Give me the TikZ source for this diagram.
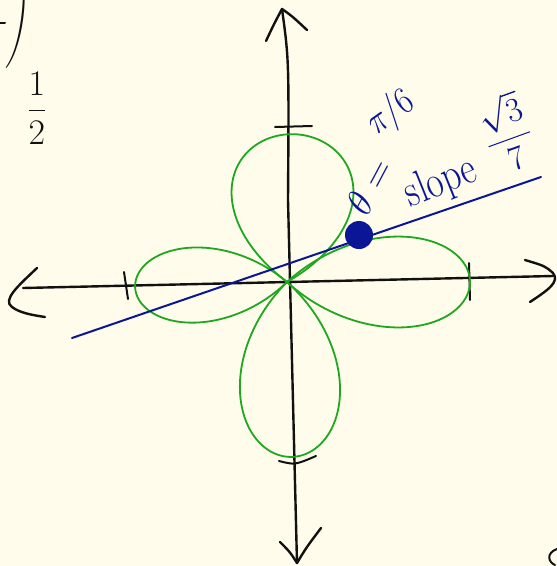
\RequirePackage{fix-cm}
\documentclass[tikz,border=0pt]{standalone}
\usepackage{xcolor}
\usepackage{tikz}
\usepackage{amsmath}
\definecolor{rsPaper}{HTML}{FFFCEB}
\definecolor{rsInk}{HTML}{111111}
\definecolor{rsGreen}{HTML}{1FA81F}
\definecolor{rsBlue}{HTML}{0A1696}

\begin{document}
\begin{tikzpicture}[
    x=1pt, y=-1pt,
    axis/.style={draw=rsInk, line width=2.4pt, line cap=round, line join=round},
    tick/.style={axis, line width=2pt},
    rose/.style={draw=rsGreen, line width=1.8pt, line join=round},
    tangent/.style={draw=rsBlue, line width=2pt, line cap=round},
    hand/.style={font=\fontsize{#1}{#1}\selectfont, text=rsBlue, inner sep=0pt},
    hand/.default=32
]
    % --- Paper ---
    \useasboundingbox (0,0) rectangle (557,566);
    \clip (0,0) rectangle (557,566);
    \fill[rsPaper] (0,0) rectangle (557,566);

    % --- Axes ---
    \coordinate (xL) at (23,288);
    \coordinate (xR) at (553,276);
    \coordinate (yT) at (282,9);
    \coordinate (yB) at (297,563);
    \draw[axis] (xL) -- (xR);
    \draw[axis] (yT) .. controls (289,60) .. (288,200) -- (yB);
    \draw[axis] (37,268) .. controls (18,286) and (2,300) .. (12,307) .. controls (20,313) and (32,315) .. (45,317);
    \draw[axis] (525,260) .. controls (545,266) .. (553,273) .. controls (560,282) and (548,290) .. (530,302);
    \draw[axis] (266,41) .. controls (274,24) .. (yT) .. controls (292,16) .. (307,30);
    \draw[axis] (280,542) .. controls (290,552) .. (yB) .. controls (306,548) .. (321,528);
    \draw[tick] (124,272) -- (128,299);
    \draw[tick] (469,263) -- (470,300);
    \draw[tick] (275,127) -- (312,126);
    \draw[tick] (279,461) .. controls (295,465) .. (316,456);

    % --- Rose ---
    \foreach \ang/\len/\wid in {0/183/167, 273.5/148/224, 178.1/152/138, 88.4/175/184}
        \draw[rose] plot[smooth, domain=-45:45, samples=61, variable=\t]
            ({287 + \len*cos(2*\t)*cos(\t)*cos(\ang) - \wid*cos(2*\t)*sin(\t)*sin(\ang)},
             {282 + \len*cos(2*\t)*cos(\t)*sin(\ang) + \wid*cos(2*\t)*sin(\t)*cos(\ang)});

    % --- Tangent ---
    \coordinate (tanA) at (72,338);
    \coordinate (tanB) at (541,177);
    \draw[tangent] (tanA) -- (tanB);
    \node[circle, fill=rsBlue, minimum size=28pt, inner sep=0pt] (pt) at (359,235) {};

    % --- Labels ---
    \node[hand=38, rotate=62] (thetaEq) at (369,186) {$\theta=$};
    \node[hand=38, rotate=35, xscale=0.85] (piSix) at (391,113) {$\pi/6$};
    \node[hand=46, rotate=22, xscale=0.8] (slope) at (441,183) {slope};
    \node[hand=34, rotate=20] (slopeVal) at (507,133) {$\dfrac{\sqrt{3}}{7}$};
    \node[font=\fontsize{36}{36}\selectfont, text=rsInk, inner sep=0pt] (half) at (37,108) {$\dfrac{1}{2}$};
    \node[font=\fontsize{40}{40}\selectfont, text=rsInk, inner sep=0pt, rotate=-8] (paren) at (19,20) {\scalebox{1.2}[2.5]{)}};
    \draw[tick] (0,23) -- (5,23);
    \draw[tick] (557,549) .. controls (546,553) and (548,562) .. (555,565);
\end{tikzpicture}
\end{document}
